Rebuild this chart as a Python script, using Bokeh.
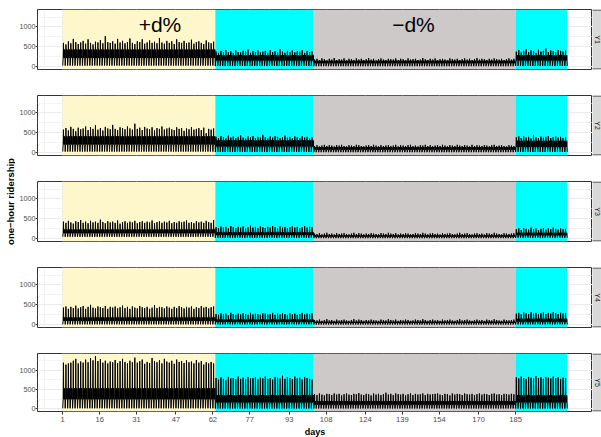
import math
from bokeh.plotting import figure
from bokeh.layouts import row, column
from bokeh.models import Range1d, FixedTicker
from bokeh.core.properties import value
from bokeh.embed import file_html
from bokeh.resources import INLINE

# ---------------- data ----------------
panel_names = ["Y1", "Y2", "Y3", "Y4", "Y5"]
period_edges = [1, 63, 103, 185, 206]          # day boundaries of the shaded periods
period_colors = ["#FFF7CC", "#00FFFF", "#CDC9C9", "#00FFFF"]
x_ticks = [1, 16, 31, 47, 62, 77, 93, 108, 124, 139, 154, 170, 185]
y_ticks = [0, 500, 1000]
annot_text = ["+d%", "\u2212d%"]
annot_x = [40.5, 143.5]
annot_y = [1060, 1060]

# daily peak one-hour ridership, per period (yellow, cyan, grey, cyan)
y1_p1 = [600, 560, 640, 590, 700, 620, 570, 610, 650, 580,
         690, 600, 560, 630, 610, 670, 590, 770, 620, 600,
         640, 580, 700, 610, 650, 590, 620, 710, 600, 570,
         640, 620, 690, 580, 610, 660, 600, 630, 590, 720,
         610, 580, 650, 600, 640, 570, 690, 620, 600, 650,
         590, 610, 680, 580, 620, 640, 600, 570, 660, 610,
         590, 630]
y1_p2 = [380, 350, 400, 370, 420, 360, 390, 340, 410, 370,
         360, 400, 380, 430, 350, 390, 370, 410, 360, 380,
         400, 350, 420, 370, 390, 360, 440, 380, 350, 400,
         370, 410, 360, 390, 380, 420, 350, 400, 370, 390]
y1_p3 = [180, 200, 170, 210, 190, 160, 200, 180, 220, 170,
         190, 180, 210, 160, 200, 190, 170, 210, 180, 200,
         170, 190, 220, 180, 200, 160, 190, 210, 180, 170,
         200, 190, 180, 210, 170, 200, 190, 160, 210, 180,
         190, 200, 170, 180, 220, 190, 170, 200, 180, 210,
         160, 190, 200, 180, 170, 210, 190, 180, 200, 170,
         190, 210, 180, 200, 170, 190, 220, 180, 200, 190,
         170, 200, 180, 210, 190, 180, 200, 170, 190, 210,
         180, 200]
y1_p4 = [380, 420, 360, 400, 440, 370, 410, 390, 350, 430,
         380, 400, 460, 370, 410, 390, 360, 420, 400, 380,
         410]

y2_p1 = [580, 620, 560, 650, 600, 540, 630, 590, 610, 660,
         570, 640, 600, 690, 580, 620, 560, 650, 610, 590,
         700, 600, 570, 640, 620, 590, 660, 610, 580, 730,
         600, 630, 570, 650, 610, 590, 640, 560, 620, 600,
         660, 580, 610, 630, 590, 570, 640, 600, 620, 550,
         610, 590, 640, 580, 600, 620, 570, 630, 490, 600,
         580, 610]
y2_p2 = [400, 370, 420, 390, 360, 430, 380, 410, 370, 400,
         440, 380, 360, 410, 390, 420, 370, 400, 380, 450,
         390, 360, 410, 380, 420, 400, 370, 390, 430, 380,
         400, 360, 410, 390, 370, 420, 380, 400, 360, 390]
y2_p3 = [170, 190, 160, 180, 200, 170, 190, 180, 160, 190,
         180, 200, 170, 160, 190, 180, 170, 200, 190, 170,
         160, 180, 190, 170, 200, 180, 160, 190, 170, 180,
         190, 170, 180, 200, 160, 190, 180, 170, 190, 200,
         170, 180, 160, 190, 180, 200, 170, 190, 160, 180,
         190, 170, 200, 180, 160, 190, 180, 170, 200, 180,
         170, 190, 180, 160, 200, 170, 190, 180, 170, 190,
         180, 160, 190, 200, 170, 180, 190, 170, 160, 190,
         180, 170]
y2_p4 = [390, 410, 370, 420, 380, 400, 360, 430, 390, 370,
         410, 380, 400, 420, 370, 390, 410, 380, 400, 370,
         390]

y3_p1 = [430, 400, 450, 410, 380, 440, 420, 470, 400, 430,
         390, 450, 410, 430, 400, 480, 420, 390, 440, 410,
         430, 400, 460, 380, 420, 440, 400, 430, 410, 450,
         390, 420, 440, 400, 430, 410, 460, 390, 420, 440,
         400, 430, 410, 450, 390, 420, 400, 440, 410, 430,
         460, 400, 420, 390, 440, 410, 430, 400, 450, 420,
         400, 470]
y3_p2 = [290, 270, 310, 280, 300, 260, 320, 290, 270, 300,
         280, 310, 260, 290, 330, 280, 300, 270, 310, 290,
         270, 300, 280, 320, 290, 260, 310, 280, 300, 270,
         290, 310, 280, 300, 260, 290, 320, 280, 300, 290]
y3_p3 = [130, 120, 140, 110, 130, 150, 120, 130, 110, 140,
         120, 130, 140, 120, 110, 130, 150, 120, 140, 130,
         110, 130, 120, 140, 130, 120, 110, 140, 130, 120,
         150, 130, 120, 140, 110, 130, 120, 140, 130, 110,
         120, 140, 130, 120, 150, 130, 110, 130, 140, 120,
         130, 110, 140, 120, 130, 140, 120, 110, 130, 150,
         120, 130, 140, 120, 110, 130, 140, 120, 130, 110,
         140, 130, 120, 150, 130, 120, 110, 140, 130, 120,
         130, 140]
y3_p4 = [240, 260, 220, 270, 250, 230, 280, 240, 260, 220,
         250, 270, 230, 260, 240, 280, 250, 230, 260, 240,
         250]

y4_p1 = [430, 460, 400, 450, 420, 480, 410, 440, 470, 400,
         450, 500, 430, 410, 460, 440, 420, 470, 400, 450,
         430, 460, 410, 440, 480, 420, 450, 400, 460, 430,
         410, 470, 440, 420, 450, 400, 430, 490, 420, 450,
         440, 410, 460, 430, 400, 450, 420, 470, 440, 410,
         450, 430, 460, 400, 440, 420, 470, 430, 450, 410,
         440, 460]
y4_p2 = [270, 250, 290, 260, 280, 240, 300, 270, 250, 280,
         260, 290, 270, 250, 300, 260, 280, 270, 250, 290,
         280, 260, 270, 300, 250, 280, 260, 290, 270, 250,
         290, 260, 280, 250, 270, 300, 260, 280, 270, 290]
y4_p3 = [120, 110, 130, 100, 120, 140, 110, 120, 100, 130,
         110, 120, 130, 110, 100, 120, 140, 110, 130, 120,
         100, 120, 110, 130, 120, 110, 100, 130, 120, 110,
         140, 120, 110, 130, 100, 120, 110, 130, 120, 100,
         110, 130, 120, 110, 140, 120, 100, 120, 130, 110,
         120, 100, 130, 110, 120, 130, 110, 100, 120, 140,
         110, 120, 130, 110, 100, 120, 130, 110, 120, 100,
         130, 120, 110, 140, 120, 110, 100, 130, 120, 110,
         120, 130]
y4_p4 = [280, 300, 260, 310, 290, 270, 320, 280, 300, 260,
         290, 310, 270, 300, 280, 320, 290, 270, 300, 280,
         290]

y5_p1 = [1200, 1150, 1180, 1200, 1250, 1300, 1180, 1230, 1200, 1280,
         1210, 1320, 1260, 1370, 1240, 1290, 1200, 1250, 1180, 1230,
         1210, 1270, 1190, 1240, 1300, 1220, 1180, 1250, 1210, 1330,
         1200, 1240, 1280, 1170, 1220, 1190, 1320, 1240, 1210, 1260,
         1180, 1300, 1230, 1200, 1250, 1170, 1280, 1220, 1240, 1190,
         1260, 1210, 1230, 1180, 1270, 1200, 1240, 1150, 1210, 1180,
         1220, 1180]
y5_p2 = [800, 760, 820, 780, 740, 830, 790, 800, 770, 840,
         780, 810, 760, 830, 790, 800, 820, 770, 810, 790,
         840, 780, 800, 760, 830, 810, 790, 860, 780, 820,
         800, 770, 840, 790, 810, 760, 830, 800, 780, 760]
y5_p3 = [380, 360, 400, 370, 350, 390, 380, 360, 400, 370,
         390, 350, 380, 400, 370, 360, 390, 380, 410, 370,
         360, 390, 380, 350, 400, 370, 390, 360, 380, 420,
         370, 390, 360, 400, 380, 370, 390, 350, 380, 400,
         360, 390, 370, 380, 400, 360, 390, 370, 380, 390,
         400, 370, 360, 390, 380, 350, 400, 370, 390, 380,
         360, 400, 380, 370, 390, 360, 380, 400, 370, 390,
         380, 360, 390, 400, 370, 380, 360, 390, 380, 370,
         390, 380]
y5_p4 = [820, 790, 840, 800, 780, 830, 810, 790, 850, 800,
         820, 780, 830, 810, 790, 840, 800, 820, 780, 810,
         800]

peaks = {
    "Y1": [y1_p1, y1_p2, y1_p3, y1_p4],
    "Y2": [y2_p1, y2_p2, y2_p3, y2_p4],
    "Y3": [y3_p1, y3_p2, y3_p3, y3_p4],
    "Y4": [y4_p1, y4_p2, y4_p3, y4_p4],
    "Y5": [y5_p1, y5_p2, y5_p3, y5_p4],
}
# typical daytime (off-peak) upper / lower levels and night level, per period
body_hi = {"Y1": [430, 290, 150, 290], "Y2": [410, 310, 140, 300],
           "Y3": [230, 160, 85, 150], "Y4": [180, 130, 75, 150],
           "Y5": [530, 360, 200, 350]}
body_lo = {"Y1": [220, 160, 90, 160], "Y2": [210, 160, 80, 150],
           "Y3": [140, 95, 55, 90], "Y4": [100, 75, 45, 80],
           "Y5": [250, 170, 110, 170]}
night = {"Y1": [30, 20, 15, 20], "Y2": [30, 20, 15, 20],
         "Y3": [50, 25, 15, 25], "Y4": [10, 10, 5, 10],
         "Y5": [15, 10, 10, 10]}

# ---------------- build hourly-like series ----------------
hour_pos = [0.0, 0.18, 0.30, 0.42, 0.55, 0.68, 0.80, 0.92]


def series(name):
    xs, ys = [], []
    for k in range(4):
        start = period_edges[k]
        lo, bl, bh = night[name][k], body_lo[name][k], body_hi[name][k]
        for i, pk in enumerate(peaks[name][k]):
            d = start + i
            vals = [lo, bl, pk, bl, bh, bl, bh, bl]
            xs.extend(d + h for h in hour_pos)
            ys.extend(vals)
    xs.append(period_edges[-1])
    ys.append(night[name][-1])
    return xs, ys


# ---------------- layout constants ----------------
FONT = "Liberation Sans"
LEFT_W = 15
STRIP_W = 9
PANEL_W = 601 - LEFT_W - STRIP_W
AXIS_W = 37 - LEFT_W
TOP = 9
FRAME_H = 60
GAP_B = 17
LAST_B = 26
H_TOTAL = 4 * (TOP + FRAME_H + GAP_B) + TOP + FRAME_H + LAST_B

x_span = period_edges[-1] - period_edges[0]
x_range = Range1d(period_edges[0] - 0.05 * x_span, period_edges[-1] + 0.05 * x_span)
ymax = max(max(max(l) for l in peaks[n]) for n in panel_names)
y_lo, y_hi = -0.05 * ymax, ymax * 1.05
y_range = Range1d(y_lo, y_hi)

step_x = x_ticks[1] - x_ticks[0]
x_minor = [x_ticks[0] - step_x / 2] + [(a + b) / 2 for a, b in zip(x_ticks[:-1], x_ticks[1:])]
step_y = y_ticks[1] - y_ticks[0]
y_minor = [t + step_y / 2 for t in y_ticks]


def make_panel(idx, name):
    last = idx == len(panel_names) - 1
    bottom = LAST_B if last else GAP_B
    p = figure(width=PANEL_W, height=TOP + FRAME_H + bottom,
               x_range=x_range, y_range=y_range,
               output_backend="svg", toolbar_location=None,
               x_axis_location="below" if last else None,
               min_border_left=AXIS_W, min_border_right=0,
               min_border_top=TOP, min_border_bottom=bottom,
               background_fill_color="white", border_fill_color="white",
               outline_line_color="#333333", outline_line_width=1)
    p.ygrid.ticker = FixedTicker(ticks=y_ticks, minor_ticks=y_minor)
    p.xgrid.ticker = FixedTicker(ticks=x_ticks, minor_ticks=x_minor)
    p.grid.grid_line_color = "#EBEBEB"
    p.grid.grid_line_width = 1
    p.grid.minor_grid_line_color = "#EBEBEB"
    p.grid.minor_grid_line_width = 0.6

    yax = p.yaxis[0]
    yax.ticker = FixedTicker(ticks=y_ticks)
    yax.axis_line_color = None
    yax.major_tick_line_color = "#333333"
    yax.major_tick_out = 2
    yax.major_tick_in = 0
    yax.minor_tick_out = 0
    yax.minor_tick_in = 0
    yax.major_label_standoff = 0
    yax.major_label_text_font = FONT
    yax.major_label_text_font_size = "7.2px"
    yax.major_label_text_color = "#4D4D4D"

    if last:
        xax = p.xaxis[0]
        xax.ticker = FixedTicker(ticks=x_ticks)
        xax.axis_line_color = None
        xax.major_tick_line_color = "#333333"
        xax.major_tick_out = 3
        xax.major_tick_in = 0
        xax.minor_tick_out = 0
        xax.minor_tick_in = 0
        xax.major_label_standoff = 2
        xax.major_label_text_font = FONT
        xax.major_label_text_font_size = "7.6px"
        xax.major_label_text_color = "#4D4D4D"
        xax.axis_label = "days"
        xax.axis_label_standoff = 2
        xax.axis_label_text_font = FONT
        xax.axis_label_text_font_size = "9px"
        xax.axis_label_text_font_style = "bold"
        xax.axis_label_text_color = "black"

    p.quad(left=period_edges[:-1], right=period_edges[1:],
           bottom=y_lo, top=y_hi, fill_color=period_colors, line_color=None)
    xs, ys = series(name)
    p.line(xs, ys, line_color="black", line_width=1)
    if idx == 0:
        p.text(x=annot_x, y=annot_y, text=annot_text,
               text_font=value(FONT), text_font_size="21px",
               text_align="center", text_baseline="middle", text_color="black")
    return p


def make_strip(idx, name):
    last = idx == len(panel_names) - 1
    bottom = LAST_B if last else GAP_B
    s = figure(width=STRIP_W, height=TOP + FRAME_H + bottom,
               x_range=Range1d(0, STRIP_W), y_range=Range1d(0, FRAME_H),
               output_backend="svg", toolbar_location=None,
               x_axis_location=None, y_axis_location=None,
               min_border_left=0, min_border_right=0,
               min_border_top=TOP, min_border_bottom=bottom,
               background_fill_color="white", border_fill_color="white",
               outline_line_color=None)
    s.grid.visible = False
    s.quad(left=-2, right=STRIP_W + 20, bottom=0.5, top=FRAME_H - 0.5,
           fill_color="#D9D9D9", line_color="#333333", line_width=1)
    s.text(x=[4.8], y=[FRAME_H / 2], text=[name], angle=-math.pi / 2,
           text_font=value(FONT), text_font_size="7px", text_color="#1A1A1A",
           text_align="center", text_baseline="middle")
    return s


ylab = figure(width=LEFT_W, height=H_TOTAL,
              x_range=Range1d(0, LEFT_W), y_range=Range1d(0, H_TOTAL),
              output_backend="svg", toolbar_location=None,
              x_axis_location=None, y_axis_location=None,
              min_border=0, outline_line_color=None,
              background_fill_color="white", border_fill_color="white")
ylab.grid.visible = False
ylab.text(x=[9.8], y=[H_TOTAL - 201], text=["one\u2212hour ridership"], angle=math.pi / 2,
          text_font=value(FONT), text_font_size="9.5px", text_font_style="bold",
          text_color="black", text_align="center", text_baseline="middle")

rows = [row(make_panel(i, n), make_strip(i, n)) for i, n in enumerate(panel_names)]
layout = row(ylab, column(*rows))

open("out.html", "w").write(file_html(layout, INLINE))
